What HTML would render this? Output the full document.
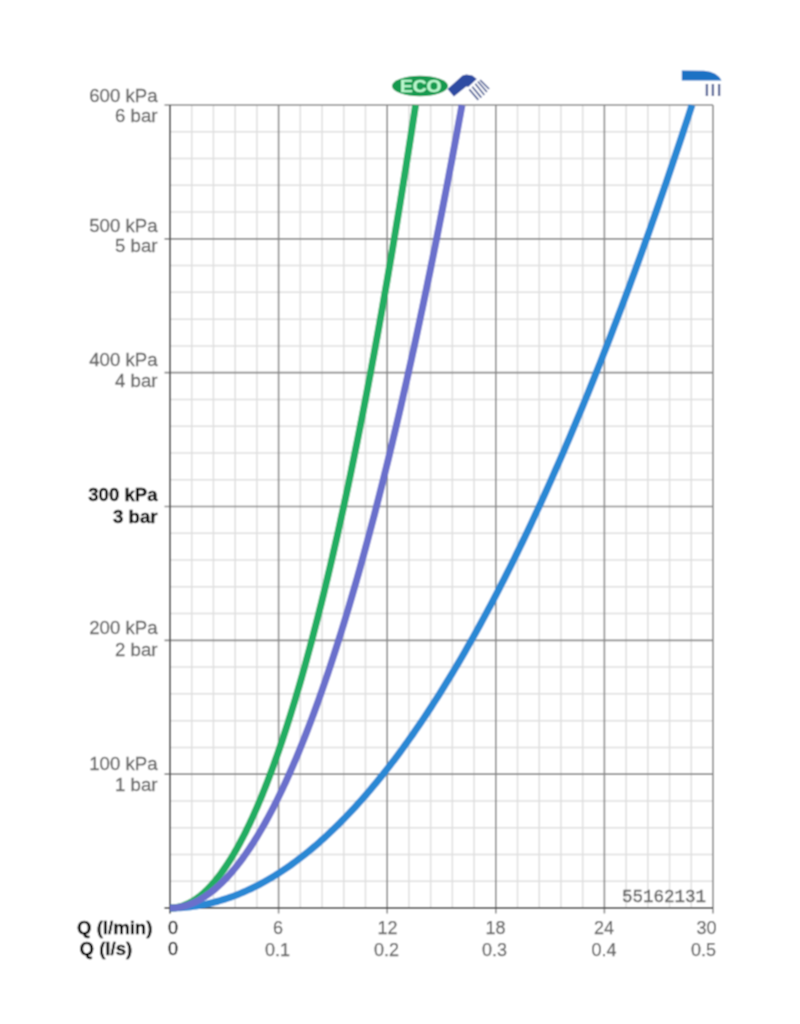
<!DOCTYPE html><html><head><meta charset="utf-8"><style>html,body{margin:0;padding:0;background:#fff;width:800px;height:1024px;overflow:hidden}svg{display:block}text{font-family:"Liberation Sans",sans-serif}</style></head><body>
<svg width="800" height="1024" viewBox="0 0 800 1024">
<defs><filter id="bl" x="0" y="0" width="800" height="1024" filterUnits="userSpaceOnUse"><feConvolveMatrix order="3" kernelMatrix="1 2 1 2 4 2 1 2 1" divisor="16" edgeMode="duplicate" preserveAlpha="true"/></filter></defs><g filter="url(#bl)">
<rect width="800" height="1024" fill="#fff"/>
<path d="M191.72 105.0V908.0M213.44 105.0V908.0M235.16 105.0V908.0M256.88 105.0V908.0M300.32 105.0V908.0M322.04 105.0V908.0M343.76 105.0V908.0M365.48 105.0V908.0M408.92 105.0V908.0M430.64 105.0V908.0M452.36 105.0V908.0M474.08 105.0V908.0M517.52 105.0V908.0M539.24 105.0V908.0M560.96 105.0V908.0M582.68 105.0V908.0M626.12 105.0V908.0M647.84 105.0V908.0M669.56 105.0V908.0M691.28 105.0V908.0M170.0 881.23H713.0M170.0 854.47H713.0M170.0 827.70H713.0M170.0 800.93H713.0M170.0 747.40H713.0M170.0 720.63H713.0M170.0 693.87H713.0M170.0 667.10H713.0M170.0 613.57H713.0M170.0 586.80H713.0M170.0 560.03H713.0M170.0 533.27H713.0M170.0 479.73H713.0M170.0 452.97H713.0M170.0 426.20H713.0M170.0 399.43H713.0M170.0 345.90H713.0M170.0 319.13H713.0M170.0 292.37H713.0M170.0 265.60H713.0M170.0 212.07H713.0M170.0 185.30H713.0M170.0 158.53H713.0M170.0 131.77H713.0" stroke="#dfdfdf" stroke-width="1.5" fill="none"/>
<path d="M278.60 105.0V913.5M387.20 105.0V913.5M495.80 105.0V913.5M604.40 105.0V913.5M164.5 774.17H713.0M164.5 640.33H713.0M164.5 506.50H713.0M164.5 372.67H713.0M164.5 238.83H713.0M164.5 105.0H713.0M713.0 105.0V913.5" stroke="#8a8a8a" stroke-width="1.6" fill="none"/>
<path d="M170.0 105.0V913.5M164.5 908.0H713.0" stroke="#585858" stroke-width="2" fill="none"/>
<defs><clipPath id="pc"><rect x="150" y="104.6" width="600" height="820"/></clipPath></defs>
<g clip-path="url(#pc)" fill="none" stroke-width="7" stroke-linejoin="round">
<path d="M170.00,908.00 L172.61,907.98 L175.22,907.92 L177.83,907.82 L180.44,907.68 L183.05,907.50 L185.66,907.28 L188.27,907.02 L190.88,906.72 L193.49,906.37 L196.10,905.99 L198.71,905.57 L201.32,905.11 L203.93,904.61 L206.54,904.07 L209.15,903.48 L211.76,902.86 L214.37,902.20 L216.98,901.50 L219.59,900.75 L222.20,899.97 L224.81,899.15 L227.42,898.28 L230.03,897.38 L232.64,896.44 L235.25,895.45 L237.86,894.43 L240.47,893.37 L243.08,892.26 L245.69,891.12 L248.30,889.93 L250.91,888.71 L253.52,887.44 L256.13,886.14 L258.74,884.79 L261.35,883.41 L263.96,881.98 L266.57,880.52 L269.18,879.01 L271.79,877.47 L274.40,875.88 L277.01,874.25 L279.62,872.59 L282.23,870.88 L284.84,869.13 L287.45,867.35 L290.06,865.52 L292.67,863.65 L295.28,861.75 L297.89,859.80 L300.50,857.81 L303.11,855.78 L305.72,853.72 L308.33,851.61 L310.94,849.46 L313.55,847.27 L316.16,845.04 L318.77,842.78 L321.38,840.47 L323.99,838.12 L326.60,835.73 L329.21,833.30 L331.82,830.83 L334.43,828.32 L337.04,825.77 L339.65,823.18 L342.26,820.55 L344.87,817.88 L347.48,815.17 L350.09,812.42 L352.70,809.63 L355.31,806.80 L357.92,803.93 L360.53,801.02 L363.14,798.07 L365.75,795.08 L368.36,792.05 L370.97,788.98 L373.58,785.86 L376.19,782.71 L378.80,779.52 L381.41,776.29 L384.02,773.02 L386.63,769.70 L389.24,766.35 L391.85,762.96 L394.46,759.53 L397.07,756.05 L399.68,752.54 L402.29,748.99 L404.90,745.39 L407.51,741.76 L410.12,738.09 L412.73,734.37 L415.34,730.62 L417.95,726.82 L420.56,722.99 L423.17,719.11 L425.78,715.20 L428.39,711.24 L431.00,707.25 L433.61,703.21 L436.22,699.14 L438.83,695.02 L441.44,690.87 L444.05,686.67 L446.66,682.44 L449.27,678.16 L451.88,673.85 L454.49,669.49 L457.10,665.09 L459.71,660.66 L462.32,656.18 L464.93,651.66 L467.54,647.11 L470.15,642.51 L472.76,637.87 L475.37,633.19 L477.98,628.48 L480.59,623.72 L483.20,618.92 L485.81,614.08 L488.42,609.20 L491.03,604.29 L493.64,599.33 L496.25,594.33 L498.86,589.29 L501.47,584.21 L504.08,579.09 L506.69,573.93 L509.30,568.73 L511.91,563.49 L514.52,558.21 L517.13,552.89 L519.74,547.53 L522.35,542.13 L524.96,536.69 L527.57,531.21 L530.18,525.69 L532.79,520.13 L535.40,514.53 L538.01,508.89 L540.62,503.21 L543.23,497.49 L545.84,491.72 L548.45,485.92 L551.06,480.08 L553.67,474.20 L556.28,468.28 L558.89,462.31 L561.50,456.31 L564.11,450.27 L566.72,444.19 L569.33,438.06 L571.94,431.90 L574.55,425.70 L577.16,419.45 L579.77,413.17 L582.38,406.85 L584.99,400.48 L587.60,394.08 L590.21,387.64 L592.82,381.15 L595.43,374.63 L598.04,368.06 L600.65,361.46 L603.26,354.81 L605.87,348.13 L608.48,341.40 L611.09,334.64 L613.70,327.83 L616.31,320.99 L618.92,314.10 L621.53,307.18 L624.14,300.21 L626.75,293.20 L629.36,286.16 L631.97,279.07 L634.58,271.94 L637.19,264.78 L639.80,257.57 L642.41,250.32 L645.02,243.04 L647.63,235.71 L650.24,228.34 L652.85,220.93 L655.46,213.49 L658.07,206.00 L660.68,198.47 L663.29,190.90 L665.90,183.29 L668.51,175.64 L671.12,167.96 L673.73,160.23 L676.34,152.46 L678.95,144.65 L681.56,136.80 L684.17,128.91 L686.78,120.98 L689.39,113.01 L692.00,105.00" stroke="#2a88d4"/>
<path d="M170.00,908.00 L171.23,907.98 L172.46,907.92 L173.68,907.82 L174.91,907.68 L176.14,907.50 L177.37,907.28 L178.60,907.02 L179.82,906.72 L181.05,906.37 L182.28,905.99 L183.51,905.57 L184.74,905.11 L185.96,904.61 L187.19,904.07 L188.42,903.48 L189.65,902.86 L190.88,902.20 L192.10,901.50 L193.33,900.75 L194.56,899.97 L195.79,899.15 L197.02,898.28 L198.24,897.38 L199.47,896.44 L200.70,895.45 L201.93,894.43 L203.16,893.37 L204.38,892.26 L205.61,891.12 L206.84,889.93 L208.07,888.71 L209.30,887.44 L210.52,886.14 L211.75,884.79 L212.98,883.41 L214.21,881.98 L215.44,880.52 L216.66,879.01 L217.89,877.47 L219.12,875.88 L220.35,874.25 L221.58,872.59 L222.80,870.88 L224.03,869.13 L225.26,867.35 L226.49,865.52 L227.72,863.65 L228.94,861.75 L230.17,859.80 L231.40,857.81 L232.63,855.78 L233.86,853.72 L235.08,851.61 L236.31,849.46 L237.54,847.27 L238.77,845.04 L240.00,842.78 L241.22,840.47 L242.45,838.12 L243.68,835.73 L244.91,833.30 L246.14,830.83 L247.36,828.32 L248.59,825.77 L249.82,823.18 L251.05,820.55 L252.28,817.88 L253.50,815.17 L254.73,812.42 L255.96,809.63 L257.19,806.80 L258.42,803.93 L259.64,801.02 L260.87,798.07 L262.10,795.08 L263.33,792.05 L264.56,788.98 L265.78,785.86 L267.01,782.71 L268.24,779.52 L269.47,776.29 L270.70,773.02 L271.92,769.70 L273.15,766.35 L274.38,762.96 L275.61,759.53 L276.84,756.05 L278.06,752.54 L279.29,748.99 L280.52,745.39 L281.75,741.76 L282.98,738.09 L284.20,734.37 L285.43,730.62 L286.66,726.82 L287.89,722.99 L289.12,719.11 L290.34,715.20 L291.57,711.24 L292.80,707.25 L294.03,703.21 L295.26,699.14 L296.48,695.02 L297.71,690.87 L298.94,686.67 L300.17,682.44 L301.40,678.16 L302.62,673.85 L303.85,669.49 L305.08,665.09 L306.31,660.66 L307.54,656.18 L308.76,651.66 L309.99,647.11 L311.22,642.51 L312.45,637.87 L313.68,633.19 L314.90,628.48 L316.13,623.72 L317.36,618.92 L318.59,614.08 L319.82,609.20 L321.04,604.29 L322.27,599.33 L323.50,594.33 L324.73,589.29 L325.96,584.21 L327.18,579.09 L328.41,573.93 L329.64,568.73 L330.87,563.49 L332.10,558.21 L333.32,552.89 L334.55,547.53 L335.78,542.13 L337.01,536.69 L338.24,531.21 L339.46,525.69 L340.69,520.13 L341.92,514.53 L343.15,508.89 L344.38,503.21 L345.60,497.49 L346.83,491.72 L348.06,485.92 L349.29,480.08 L350.52,474.20 L351.74,468.28 L352.97,462.31 L354.20,456.31 L355.43,450.27 L356.66,444.19 L357.88,438.06 L359.11,431.90 L360.34,425.70 L361.57,419.45 L362.80,413.17 L364.02,406.85 L365.25,400.48 L366.48,394.08 L367.71,387.64 L368.94,381.15 L370.16,374.63 L371.39,368.06 L372.62,361.46 L373.85,354.81 L375.08,348.13 L376.30,341.40 L377.53,334.64 L378.76,327.83 L379.99,320.99 L381.22,314.10 L382.44,307.18 L383.67,300.21 L384.90,293.20 L386.13,286.16 L387.36,279.07 L388.58,271.94 L389.81,264.78 L391.04,257.57 L392.27,250.32 L393.50,243.04 L394.72,235.71 L395.95,228.34 L397.18,220.93 L398.41,213.49 L399.64,206.00 L400.86,198.47 L402.09,190.90 L403.32,183.29 L404.55,175.64 L405.78,167.96 L407.00,160.23 L408.23,152.46 L409.46,144.65 L410.69,136.80 L411.92,128.91 L413.14,120.98 L414.37,113.01 L415.60,105.00" stroke="#22ad62"/>
<path d="M170.00,908.00 L171.46,907.98 L172.92,907.92 L174.38,907.82 L175.84,907.68 L177.30,907.50 L178.76,907.28 L180.22,907.02 L181.68,906.72 L183.14,906.37 L184.60,905.99 L186.06,905.57 L187.52,905.11 L188.98,904.61 L190.44,904.07 L191.90,903.48 L193.36,902.86 L194.82,902.20 L196.28,901.50 L197.74,900.75 L199.20,899.97 L200.66,899.15 L202.12,898.28 L203.58,897.38 L205.04,896.44 L206.50,895.45 L207.96,894.43 L209.42,893.37 L210.88,892.26 L212.34,891.12 L213.80,889.93 L215.26,888.71 L216.72,887.44 L218.18,886.14 L219.64,884.79 L221.10,883.41 L222.56,881.98 L224.02,880.52 L225.48,879.01 L226.94,877.47 L228.40,875.88 L229.86,874.25 L231.32,872.59 L232.78,870.88 L234.24,869.13 L235.70,867.35 L237.16,865.52 L238.62,863.65 L240.08,861.75 L241.54,859.80 L243.00,857.81 L244.46,855.78 L245.92,853.72 L247.38,851.61 L248.84,849.46 L250.30,847.27 L251.76,845.04 L253.22,842.78 L254.68,840.47 L256.14,838.12 L257.60,835.73 L259.06,833.30 L260.52,830.83 L261.98,828.32 L263.44,825.77 L264.90,823.18 L266.36,820.55 L267.82,817.88 L269.28,815.17 L270.74,812.42 L272.20,809.63 L273.66,806.80 L275.12,803.93 L276.58,801.02 L278.04,798.07 L279.50,795.08 L280.96,792.05 L282.42,788.98 L283.88,785.86 L285.34,782.71 L286.80,779.52 L288.26,776.29 L289.72,773.02 L291.18,769.70 L292.64,766.35 L294.10,762.96 L295.56,759.53 L297.02,756.05 L298.48,752.54 L299.94,748.99 L301.40,745.39 L302.86,741.76 L304.32,738.09 L305.78,734.37 L307.24,730.62 L308.70,726.82 L310.16,722.99 L311.62,719.11 L313.08,715.20 L314.54,711.24 L316.00,707.25 L317.46,703.21 L318.92,699.14 L320.38,695.02 L321.84,690.87 L323.30,686.67 L324.76,682.44 L326.22,678.16 L327.68,673.85 L329.14,669.49 L330.60,665.09 L332.06,660.66 L333.52,656.18 L334.98,651.66 L336.44,647.11 L337.90,642.51 L339.36,637.87 L340.82,633.19 L342.28,628.48 L343.74,623.72 L345.20,618.92 L346.66,614.08 L348.12,609.20 L349.58,604.29 L351.04,599.33 L352.50,594.33 L353.96,589.29 L355.42,584.21 L356.88,579.09 L358.34,573.93 L359.80,568.73 L361.26,563.49 L362.72,558.21 L364.18,552.89 L365.64,547.53 L367.10,542.13 L368.56,536.69 L370.02,531.21 L371.48,525.69 L372.94,520.13 L374.40,514.53 L375.86,508.89 L377.32,503.21 L378.78,497.49 L380.24,491.72 L381.70,485.92 L383.16,480.08 L384.62,474.20 L386.08,468.28 L387.54,462.31 L389.00,456.31 L390.46,450.27 L391.92,444.19 L393.38,438.06 L394.84,431.90 L396.30,425.70 L397.76,419.45 L399.22,413.17 L400.68,406.85 L402.14,400.48 L403.60,394.08 L405.06,387.64 L406.52,381.15 L407.98,374.63 L409.44,368.06 L410.90,361.46 L412.36,354.81 L413.82,348.13 L415.28,341.40 L416.74,334.64 L418.20,327.83 L419.66,320.99 L421.12,314.10 L422.58,307.18 L424.04,300.21 L425.50,293.20 L426.96,286.16 L428.42,279.07 L429.88,271.94 L431.34,264.78 L432.80,257.57 L434.26,250.32 L435.72,243.04 L437.18,235.71 L438.64,228.34 L440.10,220.93 L441.56,213.49 L443.02,206.00 L444.48,198.47 L445.94,190.90 L447.40,183.29 L448.86,175.64 L450.32,167.96 L451.78,160.23 L453.24,152.46 L454.70,144.65 L456.16,136.80 L457.62,128.91 L459.08,120.98 L460.54,113.01 L462.00,105.00" stroke="#6a70cc"/>
</g>
<text x="157.5" y="101.5" font-size="18.6" text-anchor="end" fill="#666" stroke="#666" stroke-width="0.3">600 kPa</text>
<text x="157.5" y="121.9" font-size="18.6" text-anchor="end" fill="#666" stroke="#666" stroke-width="0.3">6 bar</text>
<text x="157.5" y="231.5" font-size="18.6" text-anchor="end" fill="#666" stroke="#666" stroke-width="0.3">500 kPa</text>
<text x="157.5" y="251.9" font-size="18.6" text-anchor="end" fill="#666" stroke="#666" stroke-width="0.3">5 bar</text>
<text x="157.5" y="366" font-size="18.6" text-anchor="end" fill="#666" stroke="#666" stroke-width="0.3">400 kPa</text>
<text x="157.5" y="386.9" font-size="18.6" text-anchor="end" fill="#666" stroke="#666" stroke-width="0.3">4 bar</text>
<text x="157.5" y="501.25" font-size="18.6" text-anchor="end" fill="#000" stroke="#000" stroke-width="0.3" font-weight="bold">300 kPa</text>
<text x="157.5" y="522.5" font-size="18.6" text-anchor="end" fill="#000" stroke="#000" stroke-width="0.3" font-weight="bold">3 bar</text>
<text x="157.5" y="634.4" font-size="18.6" text-anchor="end" fill="#666" stroke="#666" stroke-width="0.3">200 kPa</text>
<text x="157.5" y="655.6" font-size="18.6" text-anchor="end" fill="#666" stroke="#666" stroke-width="0.3">2 bar</text>
<text x="157.5" y="770" font-size="18.6" text-anchor="end" fill="#666" stroke="#666" stroke-width="0.3">100 kPa</text>
<text x="157.5" y="791.25" font-size="18.6" text-anchor="end" fill="#666" stroke="#666" stroke-width="0.3">1 bar</text>
<text x="77" y="933.6" font-size="18.6" font-weight="bold" fill="#000" stroke="#000" stroke-width="0.3">Q (l/min)</text>
<text x="79.5" y="955" font-size="18.6" font-weight="bold" fill="#000" stroke="#000" stroke-width="0.3">Q (l/s)</text>
<text x="173" y="934" font-size="18" text-anchor="middle" fill="#111" stroke="#111" stroke-width="0.3">0</text>
<text x="173" y="955" font-size="18" text-anchor="middle" fill="#111" stroke="#111" stroke-width="0.3">0</text>
<text x="278" y="933.5" font-size="18" text-anchor="middle" fill="#666" stroke="#666" stroke-width="0.25">6</text>
<text x="277.5" y="955.5" font-size="18" text-anchor="middle" fill="#666" stroke="#666" stroke-width="0.25">0.1</text>
<text x="387.5" y="933.5" font-size="18" text-anchor="middle" fill="#666" stroke="#666" stroke-width="0.25">12</text>
<text x="386.5" y="955.5" font-size="18" text-anchor="middle" fill="#666" stroke="#666" stroke-width="0.25">0.2</text>
<text x="495.5" y="933.5" font-size="18" text-anchor="middle" fill="#666" stroke="#666" stroke-width="0.25">18</text>
<text x="494.5" y="955.5" font-size="18" text-anchor="middle" fill="#666" stroke="#666" stroke-width="0.25">0.3</text>
<text x="604" y="933.5" font-size="18" text-anchor="middle" fill="#666" stroke="#666" stroke-width="0.25">24</text>
<text x="604" y="955.5" font-size="18" text-anchor="middle" fill="#666" stroke="#666" stroke-width="0.25">0.4</text>
<text x="706.5" y="933.5" font-size="18" text-anchor="middle" fill="#666" stroke="#666" stroke-width="0.25">30</text>
<text x="703.5" y="955.5" font-size="18" text-anchor="middle" fill="#666" stroke="#666" stroke-width="0.25">0.5</text>
<text x="622" y="901.8" font-size="17.5" style="font-family:'Liberation Mono',monospace" fill="#666" stroke="#666" stroke-width="0.4">55162131</text>
<ellipse cx="420" cy="86" rx="28" ry="10.3" fill="#179a50"/>
<text x="400" y="91.6" font-size="16.5" font-weight="bold" fill="#bdf8cf" stroke="#bdf8cf" stroke-width="0.35" textLength="41.5" lengthAdjust="spacingAndGlyphs">ECO</text>
<path d="M447.5 89L462.5 75.5L466.3 74.4L472.3 75.5L476.8 78.9L468.5 86.75L466.3 86.4L453.9 96.5Z" fill="#2d4ca2"/>
<path d="M469.3 89.4L478.3 99.9M472.3 86.75L481.3 97.6M475.3 83.75L484.3 95M477.9 81.5L486.9 92M480.1 80L489.1 89" stroke="#4f6096" stroke-width="1.7" fill="none"/>
<path d="M681.8 70.5L704 70.8Q717.5 72 721.5 80.6L681.8 80.6Z" fill="#1f72c4"/>
<path d="M706.9 84V95.9M712.9 84V95.9M719.1 84V95.9" stroke="#4f6096" stroke-width="2.3" fill="none"/>
</g></svg></body></html>
